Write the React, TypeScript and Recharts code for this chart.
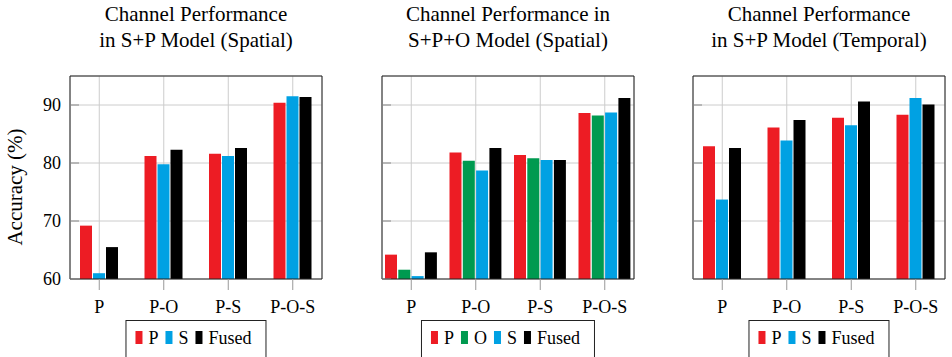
import React from 'react'
import { BarChart, Bar, XAxis, YAxis, CartesianGrid } from 'recharts'

const FONT = '"Liberation Serif", "Times New Roman", serif'

const categories = ['P', 'P-O', 'P-S', 'P-O-S']
const yTicks = [60, 70, 80, 90]

// S+P model, spatial
const spatialSP_P = [69.2, 81.2, 81.6, 90.4]
const spatialSP_S = [61.0, 79.8, 81.2, 91.5]
const spatialSP_Fused = [65.5, 82.3, 82.6, 91.4]

// S+P+O model, spatial
const spatialSPO_P = [64.2, 81.8, 81.4, 88.6]
const spatialSPO_O = [61.6, 80.4, 80.8, 88.2]
const spatialSPO_S = [60.5, 78.7, 80.5, 88.7]
const spatialSPO_Fused = [64.6, 82.6, 80.5, 91.2]

// S+P model, temporal
const temporalSP_P = [82.9, 86.1, 87.8, 88.3]
const temporalSP_S = [73.7, 83.9, 86.5, 91.2]
const temporalSP_Fused = [82.6, 87.4, 90.6, 90.1]

const RED = '#ed1c24'
const GREEN = '#009a50'
const BLUE = '#00a1e3'
const BLACK = '#000000'

interface Series {
  key: string
  color: string
  values: number[]
}

interface PanelProps {
  title: string[]
  left: number
  width: number
  marginLeft: number
  marginRight: number
  yAxisWidth: number
  showYLabels: boolean
  series: Series[]
  barGap: number
}

function LeftTick(props: any) {
  const { x, y, payload, showLabel } = props
  return (
    <g>
      <line x1={x} x2={x + 9} y1={y} y2={y} stroke="#888" />
      {showLabel && (
        <text x={x - 9} y={y} dy="0.35em" textAnchor="end" fontSize={18} fontFamily={FONT} fill="#000">
          {payload.value}
        </text>
      )}
    </g>
  )
}

function RightTick(props: any) {
  const { x, y } = props
  return <line x1={x - 9} x2={x} y1={y} y2={y} stroke="#888" />
}

function Panel({ title, left, width, marginLeft, marginRight, yAxisWidth, showYLabels, series, barGap }: PanelProps) {
  const data = categories.map((cat, i) => {
    const row: Record<string, string | number> = { cat }
    series.forEach((s) => {
      row[s.key] = s.values[i]
    })
    return row
  })
  const center = left + marginLeft + yAxisWidth + 126

  return (
    <>
      <div
        style={{
          position: 'absolute',
          left: center - 150,
          top: 1,
          width: 300,
          textAlign: 'center',
          fontFamily: FONT,
          fontSize: 21,
          lineHeight: '26px',
          color: '#000',
        }}
      >
        {title.map((t) => (
          <div key={t}>{t}</div>
        ))}
      </div>
      <div style={{ position: 'absolute', left, top: 0 }}>
        <BarChart
          width={width}
          height={357}
          data={data}
          barSize={12}
          barGap={barGap}
          margin={{ top: 65, right: marginRight, bottom: 48, left: marginLeft }}
        >
          <CartesianGrid stroke="#cccccc" strokeWidth={1} />
          <XAxis
            dataKey="cat"
            padding={{ left: -3, right: -3 }}
            height={30}
            tickSize={11}
            tickMargin={10}
            interval={0}
            axisLine={{ stroke: '#222' }}
            tickLine={{ stroke: '#999' }}
            tick={{ fontSize: 18, fontFamily: FONT, fill: '#000' }}
          />
          <XAxis
            xAxisId="top"
            orientation="top"
            dataKey="cat"
            padding={{ left: -3, right: -3 }}
            height={11}
            tickSize={11}
            interval={0}
            axisLine={{ stroke: '#222' }}
            tickLine={{ stroke: '#999' }}
            tick={false}
          />
          <YAxis
            domain={[60, 95]}
            ticks={yTicks}
            interval={0}
            allowDataOverflow
            width={yAxisWidth}
            tickSize={0}
            tickMargin={0}
            axisLine={{ stroke: '#222' }}
            tickLine={false}
            tick={<LeftTick showLabel={showYLabels} />}
          />
          <YAxis
            yAxisId="right"
            orientation="right"
            domain={[60, 95]}
            ticks={yTicks}
            interval={0}
            width={1}
            tickSize={0}
            tickMargin={0}
            axisLine={{ stroke: '#222' }}
            tickLine={false}
            tick={<RightTick />}
          />
          {series.map((s) => (
            <Bar key={s.key} dataKey={s.key} fill={s.color} isAnimationActive={false} />
          ))}
        </BarChart>
      </div>
      <div
        style={{
          position: 'absolute',
          left: center,
          top: 320,
          transform: 'translateX(-50%)',
          height: 50,
          border: '1px solid #222',
          boxSizing: 'border-box',
          padding: '8px 14px 0 9px',
          display: 'flex',
          alignItems: 'flex-start',
          whiteSpace: 'nowrap',
          fontFamily: FONT,
          fontSize: 18,
          lineHeight: '18px',
          background: '#fff',
        }}
      >
        {series.map((s, i) => (
          <div key={s.key} style={{ display: 'flex', alignItems: 'flex-start', marginLeft: i === 0 ? 0 : 7 }}>
            <div style={{ width: 7, height: 13, marginTop: 2, marginRight: 6, background: s.color }} />
            <span>{s.key}</span>
          </div>
        ))}
      </div>
    </>
  )
}

export default function App() {
  return (
    <div
      style={{
        position: 'absolute',
        left: 0,
        top: 0,
        width: 952,
        height: 357,
        overflow: 'hidden',
        background: '#fff',
      }}
    >
      <div
        style={{
          position: 'absolute',
          left: 15,
          top: 187,
          transform: 'translate(-50%, -50%) rotate(-90deg)',
          fontFamily: FONT,
          fontSize: 21,
          whiteSpace: 'nowrap',
        }}
      >
        Accuracy (%)
      </div>
      <Panel
        title={['Channel Performance', 'in S+P Model (Spatial)']}
        left={0}
        width={330}
        marginLeft={30}
        marginRight={7}
        yAxisWidth={40}
        showYLabels
        barGap={1}
        series={[
          { key: 'P', color: RED, values: spatialSP_P },
          { key: 'S', color: BLUE, values: spatialSP_S },
          { key: 'Fused', color: BLACK, values: spatialSP_Fused },
        ]}
      />
      <Panel
        title={['Channel Performance in', 'S+P+O Model (Spatial)']}
        left={342}
        width={300}
        marginLeft={39}
        marginRight={7}
        yAxisWidth={1}
        showYLabels={false}
        barGap={1.3}
        series={[
          { key: 'P', color: RED, values: spatialSPO_P },
          { key: 'O', color: GREEN, values: spatialSPO_O },
          { key: 'S', color: BLUE, values: spatialSPO_S },
          { key: 'Fused', color: BLACK, values: spatialSPO_Fused },
        ]}
      />
      <Panel
        title={['Channel Performance', 'in S+P Model (Temporal)']}
        left={654}
        width={298}
        marginLeft={38}
        marginRight={6}
        yAxisWidth={1}
        showYLabels={false}
        barGap={1}
        series={[
          { key: 'P', color: RED, values: temporalSP_P },
          { key: 'S', color: BLUE, values: temporalSP_S },
          { key: 'Fused', color: BLACK, values: temporalSP_Fused },
        ]}
      />
    </div>
  )
}
